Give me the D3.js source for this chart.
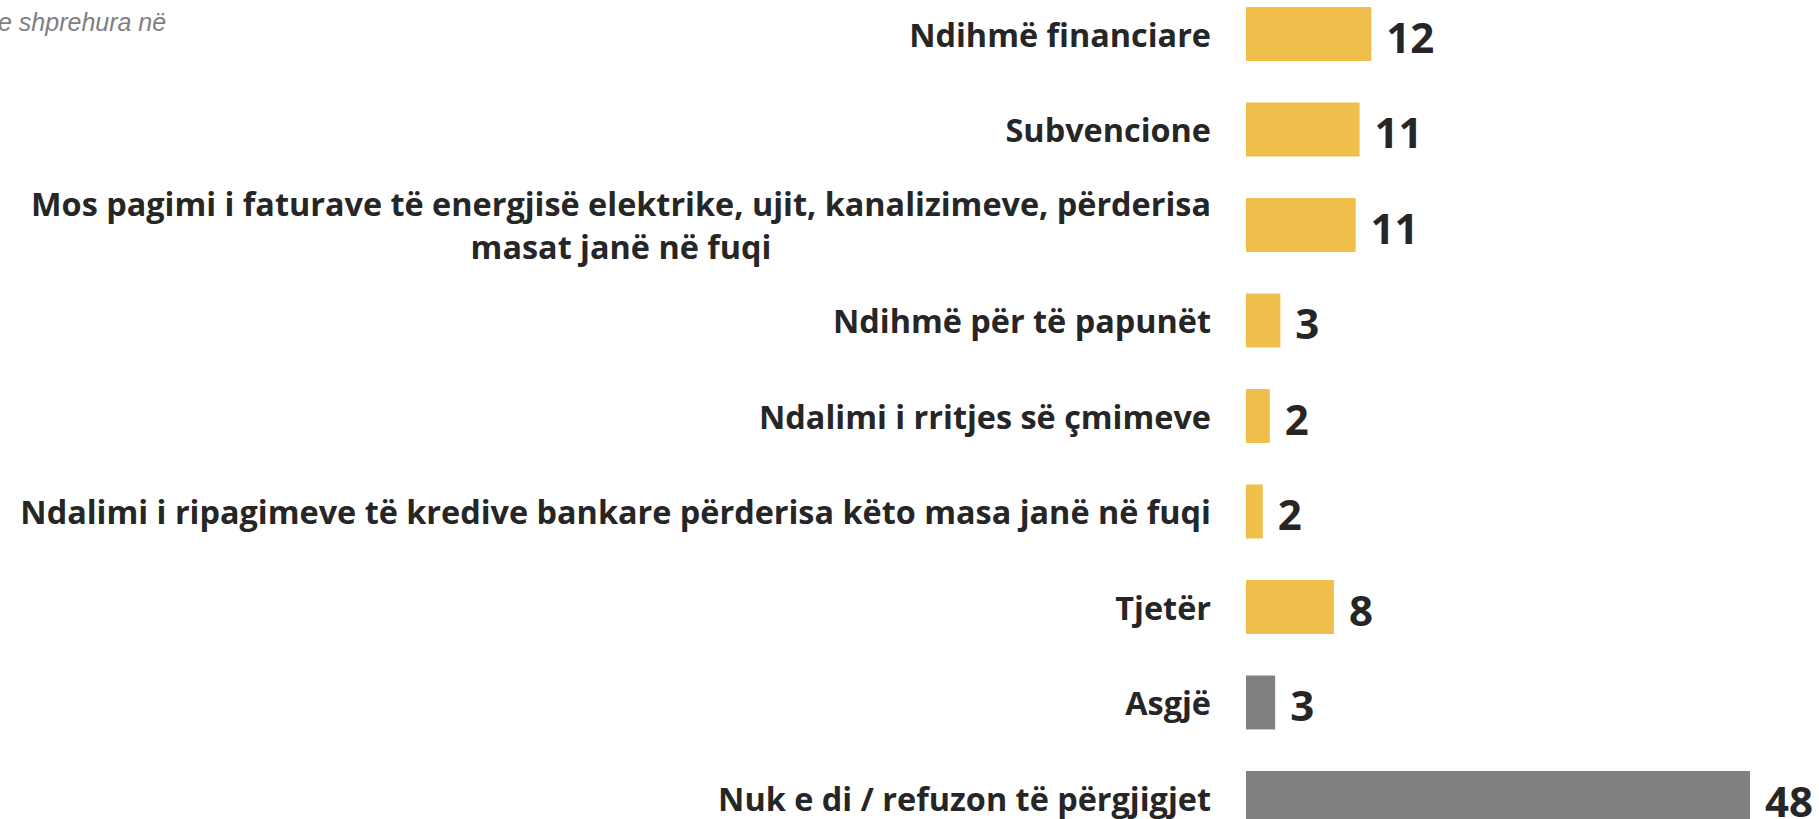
<!DOCTYPE html>
<html>
<head>
<meta charset="utf-8">
<script src="https://cdn.jsdelivr.net/npm/d3@7"></script>
<style>
  html, body { margin: 0; padding: 0; background: #fff; overflow: hidden; }
  svg { display: block; }
</style>
</head>
<body>
<svg width="1819" height="819"></svg>
<script>
// data
var categories = [
  "Ndihmë financiare",
  "Subvencione",
  "Mos pagimi i faturave të energjisë elektrike, ujit, kanalizimeve, përderisa masat janë në fuqi",
  "Ndihmë për të papunët",
  "Ndalimi i rritjes së çmimeve",
  "Ndalimi i ripagimeve të kredive bankare përderisa këto masa janë në fuqi",
  "Tjetër",
  "Asgjë",
  "Nuk e di / refuzon të përgjigjet"
];
var values = [11.96, 10.84, 10.46, 3.28, 2.27, 1.6, 8.39, 2.78, 48.1];
var valueLabels = ["12", "11", "11", "3", "2", "2", "8", "3", "48"];
var groups = ["masa", "masa", "masa", "masa", "masa", "masa", "masa", "tjeter", "tjeter"];
var titleText = "e shprehura në";

var svg = d3.select("svg"),
    width = +svg.attr("width"),
    height = +svg.attr("height");

var color = d3.scaleOrdinal()
    .domain(["masa", "tjeter"])
    .range(["#F0BE4A", "#808080"]);

var x = d3.scaleLinear()
    .domain([0, 48])
    .range([1246, 1749]);

var y = d3.scaleBand()
    .domain(categories)
    .range([-34.5, 866.5])
    .padding(0.435);

var labelRight = 1211,
    wrapWidth = 1200,
    lineHeight = 43;

svg.append("text")
    .attr("x", -2)
    .attr("y", 31)
    .attr("fill", "#7f7f7f")
    .attr("font-family", "Liberation Sans, Arial, sans-serif")
    .attr("font-style", "italic")
    .attr("font-size", "25px")
    .text(titleText);

var rows = svg.append("g")
    .attr("class", "rows")
  .selectAll("g")
  .data(categories)
  .enter().append("g");

rows.append("rect")
    .attr("x", x(0))
    .attr("y", function(d) { return y(d); })
    .attr("width", function(d, i) { return x(values[i]) - x(0); })
    .attr("height", y.bandwidth())
    .attr("fill", function(d, i) { return color(groups[i]); });

rows.append("text")
    .attr("x", function(d, i) { return x(values[i]) + 15; })
    .attr("y", function(d) { return y(d) + y.bandwidth() / 2; })
    .attr("dy", "0.45em")
    .attr("fill", "#262626")
    .attr("font-family", "Open Sans, Noto Sans, sans-serif")
    .attr("font-weight", "bold")
    .attr("font-size", "42px")
    .text(function(d, i) { return valueLabels[i]; });

// category labels, wrapped and centred like the original
var labels = rows.append("text")
    .attr("fill", "#262626")
    .attr("font-family", "Open Sans, Noto Sans, sans-serif")
    .attr("font-weight", "bold")
    .attr("font-size", "32.4px")
    .attr("text-anchor", "middle");

labels.each(function(d) {
  var t = d3.select(this);
  var words = d.split(" "), lines = [], line = [];
  var probe = t.append("tspan");
  words.forEach(function(w) {
    line.push(w);
    probe.text(line.join(" "));
    if (probe.node().getComputedTextLength() > wrapWidth && line.length > 1) {
      line.pop();
      lines.push(line.join(" "));
      line = [w];
    }
  });
  lines.push(line.join(" "));
  var widths = lines.map(function(l) {
    probe.text(l);
    return probe.node().getComputedTextLength();
  });
  probe.remove();
  var blockW = d3.max(widths),
      cx = labelRight - blockW / 2,
      cy = y(d) + y.bandwidth() / 2,
      first = cy - (lines.length - 1) * lineHeight / 2;
  lines.forEach(function(l, k) {
    t.append("tspan")
        .attr("x", cx)
        .attr("y", first + k * lineHeight)
        .attr("dy", "0.4em")
        .text(l);
  });
});
</script>
</body>
</html>
